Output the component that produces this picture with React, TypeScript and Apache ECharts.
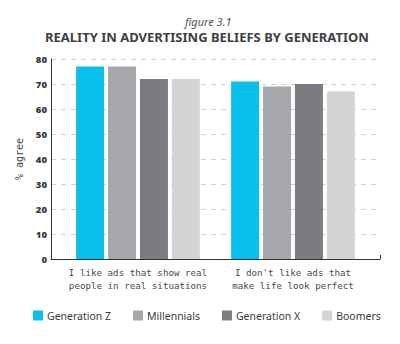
import React, { useEffect, useRef } from "react";
import * as echarts from "echarts";

const categories = [
  "I like ads that show real\npeople in real situations",
  "I don't like ads that\nmake life look perfect",
];
const seriesNames = ["Generation Z", "Millennials", "Generation X", "Boomers"];
const genZ = [77, 71];
const millennials = [77, 69];
const genX = [72, 70];
const boomers = [72, 67];
const colors = ["#0bbfeb", "#a7a8ab", "#7b7c80", "#d3d4d6"];
const yTicks = { min: 0, max: 80, interval: 10 };

export default function App() {
  const ref = useRef<HTMLDivElement>(null);
  useEffect(() => {
    const chart = echarts.init(ref.current!, undefined, { renderer: "svg" });
    const values = [genZ, millennials, genX, boomers];
    chart.setOption({
      animation: false,
      backgroundColor: "#ffffff",
      title: [
        {
          text: "figure 3.1",
          left: 185,
          top: 16,
          padding: 0,
          textStyle: { fontFamily: "Noto Sans", fontStyle: "italic", fontWeight: "normal", fontSize: 11, color: "#555" },
        },
        {
          text: "REALITY IN ADVERTISING BELIEFS BY GENERATION",
          left: 45,
          top: 30,
          padding: 0,
          textStyle: { fontFamily: "Noto Sans", fontWeight: "bold", fontSize: 13, color: "#3f4042" },
        },
      ],
      legend: {
        data: seriesNames,
        left: 33,
        top: 310,
        padding: 0,
        itemWidth: 10,
        itemHeight: 10,
        itemGap: 22,
        icon: "rect",
        textStyle: { fontFamily: "Noto Sans", fontSize: 10.5, color: "#3a3b3d", padding: [0, 0, 0, -1] },
      },
      grid: [
        { left: 60.5, right: 29.5, top: 59, bottom: 85 },
        { left: 51, right: 20, top: 59, bottom: 85 },
      ],
      xAxis: [
        {
          type: "category",
          gridIndex: 0,
          data: categories,
          axisLine: { show: false },
          axisTick: { show: false },
          axisLabel: {
            interval: 0,
            fontFamily: "DejaVu Sans Mono",
            fontSize: 9.2,
            color: "#4a4a4a",
            lineHeight: 13,
            margin: 7,
          },
        },
        {
          type: "value",
          gridIndex: 1,
          min: 0,
          max: 1,
          interval: 1,
          axisLine: { show: true, lineStyle: { color: "#333", width: 1 } },
          axisTick: { show: true, inside: true, length: 4, lineStyle: { color: "#333" } },
          axisLabel: { show: false },
          splitLine: { show: false },
        },
      ],
      yAxis: [
        {
          type: "value",
          gridIndex: 0,
          min: yTicks.min,
          max: yTicks.max,
          interval: yTicks.interval,
          show: false,
          splitLine: { show: false },
        },
        {
          type: "value",
          gridIndex: 1,
          min: yTicks.min,
          max: yTicks.max,
          interval: yTicks.interval,
          name: "% agree",
          nameLocation: "middle",
          nameGap: 24,
          nameTextStyle: { fontFamily: "DejaVu Sans Mono", fontSize: 10, color: "#444" },
          axisLine: { show: true, lineStyle: { color: "#333", width: 1 } },
          axisTick: { show: false },
          axisLabel: { fontFamily: "Noto Sans", fontWeight: 900, fontSize: 9.5, color: "#3a3b3d", margin: 4 },
          splitLine: { show: true, lineStyle: { color: "#cfd0d2", type: [5, 5], width: 1 } },
        },
      ],
      series: seriesNames.map((name, i) => ({
        name,
        type: "bar",
        xAxisIndex: 0,
        yAxisIndex: 0,
        data: values[i],
        barWidth: 28,
        barGap: "14%",
        itemStyle: { color: colors[i] },
      })),
    });
    return () => chart.dispose();
  }, []);
  return <div ref={ref} style={{ width: 400, height: 344, margin: -8 }} />;
}
